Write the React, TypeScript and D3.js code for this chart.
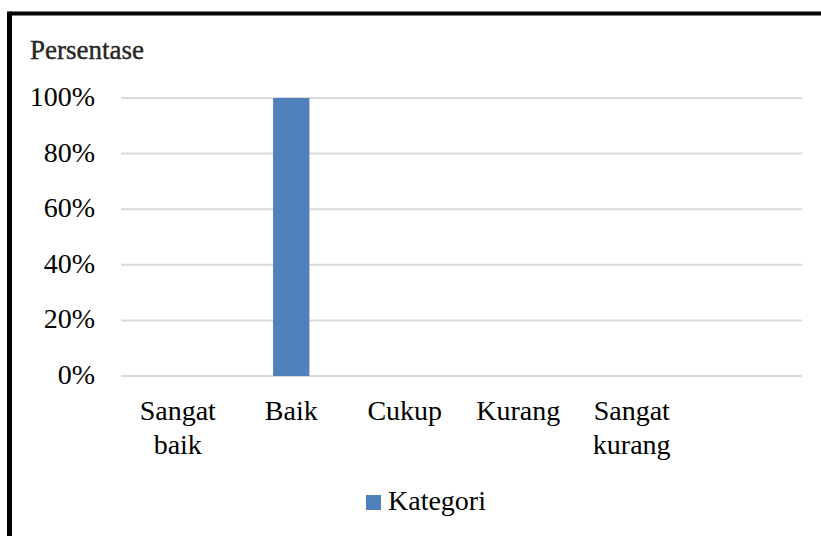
import React from "react";
import * as d3 from "d3";

const categories = ["Sangat baik", "Baik", "Cukup", "Kurang", "Sangat kurang", ""];
const values = [0, 100, 0, 0, 0, 0];
const yTicks = [0, 20, 40, 60, 80, 100];
const seriesName = "Kategori";
const axisTitle = "Persentase";

const W = 821;
const H = 536;
const FONT = "'Liberation Serif', 'Times New Roman', serif";

export default function App() {
  const x = d3
    .scaleBand<number>()
    .domain(categories.map((_, i) => i))
    .range([121, 802])
    .paddingInner(0.68)
    .paddingOuter(0.34);
  const y = d3.scaleLinear().domain([0, 100]).range([376, 98]);

  return (
    <svg
      width={W}
      height={H}
      style={{ position: "absolute", left: 0, top: 0, background: "#fff" }}
      fontFamily={FONT}
    >
      <rect x={0} y={0} width={W} height={H} fill="#fff" />
      {/* frame */}
      <line x1={9.5} y1={13.5} x2={W} y2={13.5} stroke="#000" strokeWidth={4} />
      <line x1={9.5} y1={11.5} x2={9.5} y2={H} stroke="#000" strokeWidth={5} />

      <text
        x={30}
        y={59}
        fontSize={27}
        fill="#262626"
        stroke="#262626"
        strokeWidth={0.4}
      >
        {axisTitle}
      </text>

      {yTicks.map((t) => (
        <g key={t}>
          <line
            x1={121}
            x2={802}
            y1={y(t)}
            y2={y(t)}
            stroke="#d9d9d9"
            strokeWidth={2}
          />
          <text x={95} y={y(t) + 8} textAnchor="end" fontSize={28} fill="#000">
            {t}%
          </text>
        </g>
      ))}

      {values.map((v, i) =>
        v > 0 ? (
          <rect
            key={i}
            x={x(i)!}
            y={y(v)}
            width={x.bandwidth()}
            height={y(0) - y(v)}
            fill="#4F81BD"
          />
        ) : null
      )}

      {categories.map((c, i) => {
        const cx = x(i)! + x.bandwidth() / 2;
        const lines = c === "" ? [] : c.split(" ");
        return (
          <text key={i} textAnchor="middle" fontSize={28} fill="#000">
            {lines.map((l, k) => (
              <tspan key={k} x={cx} y={420 + k * 34}>
                {l}
              </tspan>
            ))}
          </text>
        );
      })}

      <rect x={366} y={495} width={15} height={15} fill="#4F81BD" />
      <text x={388} y={510} fontSize={28} fill="#000">
        {seriesName}
      </text>
    </svg>
  );
}
